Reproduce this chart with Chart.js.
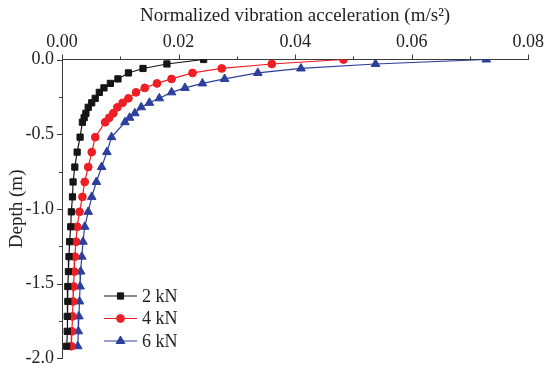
<!DOCTYPE html>
<html>
<head>
<meta charset="utf-8">
<script src="https://cdn.jsdelivr.net/npm/chart.js@4/dist/chart.umd.min.js"></script>
<style>
  html, body { margin: 0; padding: 0; background: #fff; }
  #wrap { width: 545px; height: 372px; position: relative; }
</style>
</head>
<body>
<div id="wrap"><canvas id="c" width="545" height="372"></canvas></div>
<script>
// Depth (m) of the sampled points
const depths = [0, -0.03, -0.06, -0.09, -0.13, -0.16, -0.19, -0.22, -0.26, -0.29, -0.32, -0.36, -0.39, -0.42,
  -0.52, -0.62, -0.72, -0.82, -0.92, -1.02, -1.12, -1.22, -1.32, -1.42, -1.52, -1.62, -1.72, -1.82, -1.92];
// Normalized vibration acceleration (m/s²)
const accel2kN = [0.0243, 0.0180, 0.0139, 0.0114, 0.0096, 0.0083, 0.0072, 0.0064, 0.0057, 0.0051, 0.0045, 0.0041, 0.0038, 0.0035,
  0.0031, 0.0026, 0.0022, 0.0019, 0.0018, 0.0016, 0.0015, 0.0013, 0.0012, 0.0011, 0.0010, 0.0010, 0.0009, 0.0009, 0.0008];
const accel4kN = [0.0483, 0.0360, 0.0274, 0.0224, 0.0188, 0.0163, 0.0142, 0.0127, 0.0114, 0.0104, 0.0095, 0.0088, 0.0081, 0.0074,
  0.0057, 0.0051, 0.0045, 0.0039, 0.0035, 0.0030, 0.0026, 0.0024, 0.0022, 0.0021, 0.0020, 0.0019, 0.0018, 0.0017, 0.0016];
const accel6kN = [0.0728, 0.0538, 0.0410, 0.0336, 0.0279, 0.0241, 0.0211, 0.0188, 0.0167, 0.0150, 0.0136, 0.0125, 0.0116, 0.0108,
  0.0085, 0.0077, 0.0068, 0.0059, 0.0051, 0.0045, 0.0039, 0.0036, 0.0034, 0.0032, 0.0031, 0.0030, 0.0029, 0.0028, 0.0027];
const seriesNames = ['2 kN', '4 kN', '6 kN'];
const xTitle = 'Normalized vibration acceleration (m/s²)';
const yTitle = 'Depth (m)';

const FONT = "'Liberation Serif', 'Times New Roman', serif";
const AXIS = '#3a3a3a';
const styles = [
  { color: '#151515', point: 'rect', radius: 4.4 },
  { color: '#ee1f24', point: 'circle', radius: 3.9 },
  { color: '#2c3f9c', point: 'triangle', radius: 5.0 }
];
const seriesVals = [accel2kN, accel4kN, accel6kN];

const datasets = seriesVals.map((vals, i) => ({
  label: seriesNames[i],
  data: vals.map((v, k) => ({ x: v, y: depths[k] })),
  showLine: true,
  borderColor: styles[i].color,
  backgroundColor: styles[i].color,
  borderWidth: 1.2,
  pointStyle: styles[i].point,
  pointRadius: styles[i].radius,
  pointBorderWidth: 1,
  pointBackgroundColor: styles[i].color,
  pointBorderColor: styles[i].color,
  tension: 0
}));

const tickPlugin = {
  id: 'customTicks',
  afterDraw(chart) {
    const ctx = chart.ctx;
    const xs = chart.scales.x, ys = chart.scales.y;
    const ca = chart.chartArea;
    ctx.save();
    ctx.strokeStyle = AXIS;
    ctx.lineWidth = 1;
    for (let i = 0; i <= 8; i++) {
      const px = Math.round(xs.getPixelForValue(i * 0.01)) + 0.5;
      const len = i % 2 === 0 ? 5 : 3;
      ctx.beginPath();
      ctx.moveTo(px, ca.top);
      ctx.lineTo(px, ca.top - len);
      ctx.stroke();
    }
    for (let i = 0; i <= 8; i++) {
      const py = Math.round(ys.getPixelForValue(-i * 0.25)) + 0.5;
      const len = i % 2 === 0 ? 5 : 3;
      ctx.beginPath();
      ctx.moveTo(ca.left, py);
      ctx.lineTo(ca.left - len, py);
      ctx.stroke();
    }
    ctx.restore();
  }
};

const legendPlugin = {
  id: 'customLegend',
  afterDraw(chart) {
    const ctx = chart.ctx;
    const x0 = 104, x1 = 137, xm = 120.5, tx = 142;
    const rows = [296, 318.5, 341];
    ctx.save();
    chart.data.datasets.forEach((ds, i) => {
      const y = rows[i];
      ctx.strokeStyle = ds.borderColor;
      ctx.lineWidth = 1.2;
      ctx.beginPath();
      ctx.moveTo(x0, y);
      ctx.lineTo(x1, y);
      ctx.stroke();
      ctx.fillStyle = ds.backgroundColor;
      ctx.strokeStyle = ds.borderColor;
      ctx.lineWidth = 1;
      Chart.helpers.drawPoint(ctx, { pointStyle: ds.pointStyle, radius: ds.pointRadius, rotation: 0, borderWidth: 1 }, xm, y);
      ctx.fillStyle = '#222';
      ctx.font = '18px ' + FONT;
      ctx.textBaseline = 'middle';
      ctx.textAlign = 'left';
      ctx.fillText(ds.label, tx, y + 1);
    });
    ctx.restore();
  }
};

new Chart(document.getElementById('c'), {
  type: 'scatter',
  data: { datasets },
  options: {
    responsive: false,
    animation: false,
    devicePixelRatio: 1,
    layout: { padding: { left: 0, right: 16, top: 0, bottom: 10 } },
    plugins: { legend: { display: false }, tooltip: { enabled: false } },
    scales: {
      x: {
        type: 'linear',
        position: 'top',
        min: 0, max: 0.08,
        afterFit(scale) { scale.height = 59.5; },
        ticks: {
          stepSize: 0.01,
          color: '#222',
          font: { family: FONT, size: 18 },
          padding: 1,
          maxRotation: 0,
          autoSkip: false,
          callback(v) { const k = Math.round(v * 100); return k % 2 === 0 ? (k / 100).toFixed(2) : ''; }
        },
        grid: { display: true, drawOnChartArea: false, drawTicks: true, tickLength: 5, tickColor: 'transparent' },
        border: { display: true, color: AXIS, width: 1 },
        title: { display: true, text: xTitle, color: '#222', font: { family: FONT, size: 19 }, padding: { top: 5, bottom: 0 } }
      },
      y: {
        type: 'linear',
        position: 'left',
        min: -2, max: 0,
        afterFit(scale) { scale.width = 62; },
        ticks: {
          stepSize: 0.25,
          color: '#222',
          font: { family: FONT, size: 18 },
          padding: 3,
          autoSkip: false,
          callback(v) { const k = Math.round(v * 100); if (k % 50 !== 0) return ''; return k === 0 ? '0.0' : (k / 100).toFixed(1); }
        },
        grid: { display: true, drawOnChartArea: false, drawTicks: true, tickLength: 5, tickColor: 'transparent' },
        border: { display: true, color: AXIS, width: 1 },
        title: { display: true, text: yTitle, color: '#222', font: { family: FONT, size: 19 }, padding: { top: 6, bottom: 0 } }
      }
    }
  },
  plugins: [tickPlugin, legendPlugin]
});
</script>
</body>
</html>
